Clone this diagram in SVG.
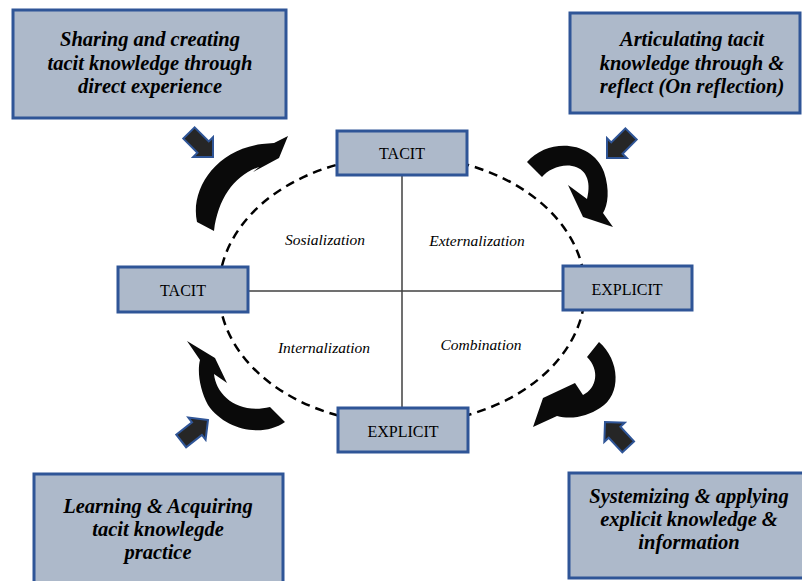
<svg xmlns="http://www.w3.org/2000/svg" width="802" height="581" viewBox="0 0 802 581">
  <style>
    .box { fill: #adb9ca; stroke: #2f5597; stroke-width: 3; }
    .note { font-family: "Liberation Serif", "Times New Roman", serif; font-size: 20.5px; font-weight: bold; font-style: italic; fill: #000; text-anchor: middle; }
    .term { font-family: "Liberation Serif", "Times New Roman", serif; font-size: 16px; fill: #000; text-anchor: middle; }
    .mode { font-family: "Liberation Serif", "Times New Roman", serif; font-size: 15.5px; font-style: italic; fill: #000; text-anchor: middle; }
    .axis { stroke: #404040; stroke-width: 1.5; fill: none; }
    .cycle { stroke: #000; stroke-width: 2.5; stroke-dasharray: 9 6; fill: none; }
    .turn { fill: #0a0a0a; }
    .pointer { fill: #262626; stroke: #2f5597; stroke-width: 2; stroke-linejoin: miter; }
  </style>
  <defs>
    <!-- short block arrow, tip at origin, pointing along +x -->
    <path id="pointer" d="M0,0 L-14,-14 L-14,-8 L-34,-8 L-34,8 L-14,8 L-14,14 Z"/>
  </defs>

  <rect width="802" height="581" fill="#ffffff"/>

  <!-- connectors: dashed cycle and the two axes -->
  <g id="connectors">
    <ellipse class="cycle" cx="402" cy="290" rx="183" ry="134"/>
    <line class="axis" x1="402" y1="175" x2="402" y2="408"/>
    <line class="axis" x1="248" y1="291" x2="563" y2="291"/>
  </g>

  <!-- curved flow arrows around the cycle -->
  <g id="turn-socialization">
    <path class="turn" d="M197,222 C190,190 215,150 262,144 L274,143 L288,136 L279,158 L253,172 L259,167 C235,175 218,198 214,231 Z"/>
  </g>
  <g id="turn-externalization">
    <path class="turn" d="M527,162 C548,138 592,140 604,172 C610,190 608,205 603,213 L613,227 L583,217 L568,185 L587,199 C592,180 585,168 572,166 C560,164 548,170 542,177 Z"/>
  </g>
  <g id="turn-combination">
    <path class="turn" d="M599,342 C620,360 622,395 600,408 C588,416 572,420 557,416 L533,427 L543,398 L575,383 L583,395 C597,388 600,370 587,357 Z"/>
  </g>
  <g id="turn-internalization">
    <path class="turn" d="M285,422 C262,438 225,430 208,405 C200,390 197,372 200,360 L187,341 L215,358 L227,383 L214,374 C216,395 238,415 270,407 Z"/>
  </g>

  <!-- small block pointers -->
  <g id="pointer-tl"><use href="#pointer" class="pointer" transform="translate(213,157) rotate(45)"/></g>
  <g id="pointer-tr"><use href="#pointer" class="pointer" transform="translate(607,158) rotate(135)"/></g>
  <g id="pointer-bl"><use href="#pointer" class="pointer" transform="translate(208,420) rotate(-38)"/></g>
  <g id="pointer-br"><use href="#pointer" class="pointer" transform="translate(605,422) rotate(-133)"/></g>

  <!-- knowledge-type nodes -->
  <g id="tacit-top">
    <rect class="box" x="337" y="131" width="130" height="44"/>
    <text class="term" x="402" y="159">TACIT</text>
  </g>
  <g id="explicit-right">
    <rect class="box" x="563" y="266" width="129" height="44"/>
    <text class="term" x="627" y="295">EXPLICIT</text>
  </g>
  <g id="tacit-left">
    <rect class="box" x="118" y="267" width="130" height="45"/>
    <text class="term" x="183" y="296">TACIT</text>
  </g>
  <g id="explicit-bottom">
    <rect class="box" x="338" y="408" width="130" height="44"/>
    <text class="term" x="403" y="437">EXPLICIT</text>
  </g>

  <!-- quadrant labels -->
  <g id="quadrant-labels">
    <text class="mode" x="325" y="245">Sosialization</text>
    <text class="mode" x="477" y="246">Externalization</text>
    <text class="mode" x="324" y="353">Internalization</text>
    <text class="mode" x="481" y="350">Combination</text>
  </g>

  <!-- description notes -->
  <g id="note-socialization">
    <rect class="box" x="13" y="10" width="273" height="108"/>
    <text class="note" x="150" y="46">Sharing and creating</text>
    <text class="note" x="150" y="69.5">tacit knowledge through</text>
    <text class="note" x="150" y="93">direct experience</text>
  </g>
  <g id="note-externalization">
    <rect class="box" x="570" y="13" width="230" height="100"/>
    <text class="note" x="692" y="46">Articulating tacit</text>
    <text class="note" x="692" y="69.5">knowledge through  &amp;</text>
    <text class="note" x="692" y="93">reflect (On reflection)</text>
  </g>
  <g id="note-internalization">
    <rect class="box" x="34" y="474" width="249" height="112"/>
    <text class="note" x="158" y="513">Learning &amp; Acquiring</text>
    <text class="note" x="158" y="536">tacit knowlegde</text>
    <text class="note" x="158" y="559">practice</text>
  </g>
  <g id="note-combination">
    <rect class="box" x="569" y="473" width="236" height="105"/>
    <text class="note" x="689" y="503">Systemizing &amp; applying</text>
    <text class="note" x="689" y="526">explicit knowledge &amp;</text>
    <text class="note" x="689" y="549">information</text>
  </g>
</svg>
